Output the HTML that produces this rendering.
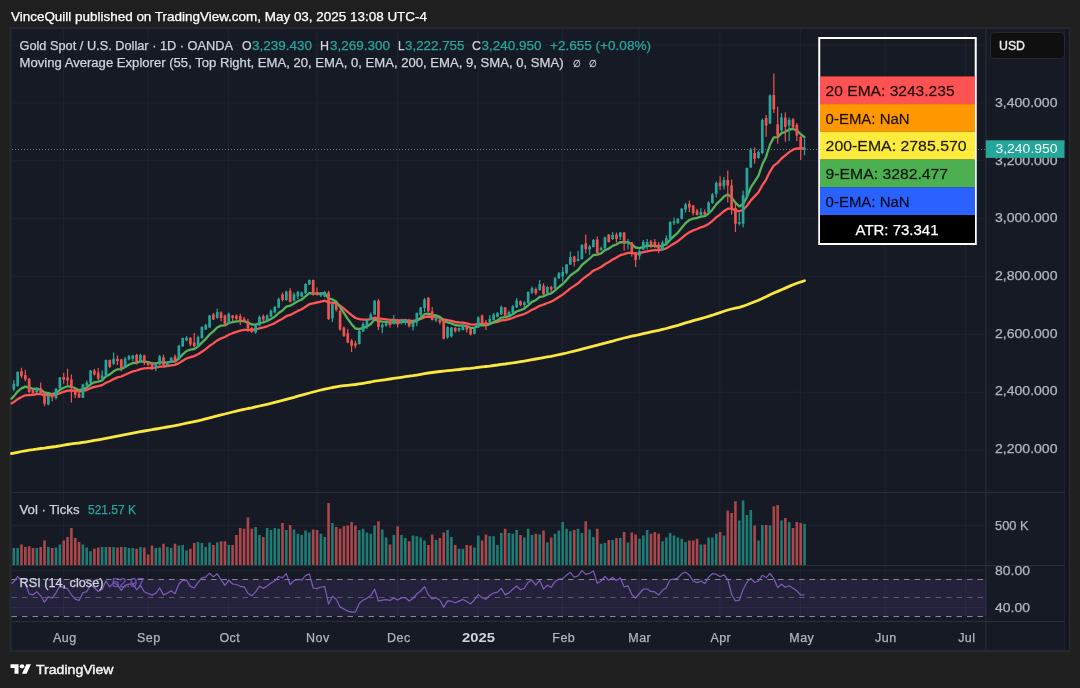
<!DOCTYPE html>
<html><head><meta charset="utf-8"><title>XAUUSD chart</title>
<style>
html,body{margin:0;padding:0;background:#1f1f1f;}
body{width:1080px;height:688px;overflow:hidden;position:relative;}
svg{position:absolute;left:0;top:0;display:block;font-family:"Liberation Sans",Arial,sans-serif;}
</style></head><body>
<svg width="1080" height="688" viewBox="0 0 1080 688">
<rect x="9.2" y="27" width="1061.2" height="625.4" fill="#25292e"/>
<rect x="11.7" y="29.2" width="1056.8" height="620.6" fill="#161a25"/>
<rect x="1065.2" y="29.2" width="3.3" height="620.6" fill="#12151d"/>
<path d="M1064.7 29.2V649.8" stroke="#20242f" stroke-width="1" fill="none"/>
<path d="M63.5 29.2V621 M147.95 29.2V621 M228.56 29.2V621 M316.84 29.2V621 M397.45 29.2V621 M478.06 29.2V621 M562.51 29.2V621 M639.28 29.2V621 M719.88 29.2V621 M800.49 29.2V621 M884.94 29.2V621 M965.55 29.2V621 M11.5 45.05H986 M11.5 102.90H986 M11.5 160.75H986 M11.5 218.60H986 M11.5 276.45H986 M11.5 334.30H986 M11.5 392.15H986 M11.5 450.00H986 M11.5 525.5H986 M11.5 570.5H986 M11.5 607.5H986" stroke="#1f2330" stroke-width="1" fill="none"/>
<path d="M11.5 492.5H1065M11.5 565.5H1065M11.5 621.5H1065M986 29.2V649.8" stroke="#2a2e36" stroke-width="1" fill="none"/>
<rect x="11.5" y="579" width="974.5" height="37" fill="#7e57c2" fill-opacity="0.14"/>
<path d="M11.5 579.5H986M11.5 616.5H986" stroke="#858892" stroke-width="1.1" stroke-dasharray="5.5 5" fill="none"/>
<path d="M11.5 597.5H986" stroke="#858892" stroke-width="1" stroke-opacity="0.55" stroke-dasharray="5.5 5" fill="none"/>
<path d="M12.50 565V548.1h2.6V565zM16.34 565V548.1h2.6V565zM35.53 565V548.1h2.6V565zM47.05 565V546.9h2.6V565zM54.72 565V547.5h2.6V565zM58.56 565V544.4h2.6V565zM81.59 565V544.4h2.6V565zM85.43 565V547.5h2.6V565zM89.27 565V551.2h2.6V565zM100.79 565V546.9h2.6V565zM104.62 565V546.9h2.6V565zM112.30 565V546.9h2.6V565zM123.82 565V546.9h2.6V565zM127.66 565V548.1h2.6V565zM131.49 565V548.1h2.6V565zM139.17 565V546.9h2.6V565zM154.52 565V548.1h2.6V565zM158.36 565V547.5h2.6V565zM166.04 565V546.9h2.6V565zM169.88 565V548.1h2.6V565zM177.56 565V545.6h2.6V565zM181.39 565V545.0h2.6V565zM185.23 565V550.6h2.6V565zM196.75 565V541.9h2.6V565zM200.59 565V543.1h2.6V565zM204.42 565V546.9h2.6V565zM208.26 565V542.5h2.6V565zM215.94 565V542.5h2.6V565zM227.46 565V545.0h2.6V565zM254.33 565V526.9h2.6V565zM258.16 565V535.0h2.6V565zM265.84 565V528.1h2.6V565zM269.68 565V530.0h2.6V565zM273.52 565V528.1h2.6V565zM277.36 565V528.8h2.6V565zM285.03 565V530.0h2.6V565zM292.71 565V529.4h2.6V565zM296.55 565V533.8h2.6V565zM300.39 565V535.0h2.6V565zM304.23 565V530.6h2.6V565zM308.06 565V532.5h2.6V565zM319.58 565V533.8h2.6V565zM323.42 565V536.9h2.6V565zM331.10 565V523.1h2.6V565zM357.96 565V530.0h2.6V565zM361.80 565V528.8h2.6V565zM365.64 565V532.5h2.6V565zM369.48 565V533.8h2.6V565zM373.32 565V525.6h2.6V565zM381.00 565V529.4h2.6V565zM384.83 565V537.5h2.6V565zM392.51 565V535.0h2.6V565zM400.19 565V535.0h2.6V565zM404.03 565V538.1h2.6V565zM411.70 565V535.6h2.6V565zM415.54 565V536.2h2.6V565zM419.38 565V537.5h2.6V565zM423.22 565V540.6h2.6V565zM434.73 565V540.0h2.6V565zM446.25 565V530.0h2.6V565zM450.09 565V536.9h2.6V565zM457.77 565V548.8h2.6V565zM461.60 565V548.8h2.6V565zM473.12 565V547.5h2.6V565zM476.96 565V535.6h2.6V565zM488.47 565V536.2h2.6V565zM492.31 565V536.2h2.6V565zM496.15 565V545.0h2.6V565zM499.99 565V533.1h2.6V565zM507.67 565V533.1h2.6V565zM511.50 565V533.8h2.6V565zM515.34 565V530.0h2.6V565zM523.02 565V537.5h2.6V565zM526.86 565V528.8h2.6V565zM530.70 565V535.0h2.6V565zM538.37 565V534.4h2.6V565zM546.05 565V542.5h2.6V565zM553.73 565V533.8h2.6V565zM557.57 565V530.6h2.6V565zM561.41 565V521.9h2.6V565zM565.24 565V528.8h2.6V565zM569.08 565V531.2h2.6V565zM576.76 565V528.8h2.6V565zM580.60 565V533.1h2.6V565zM588.27 565V529.4h2.6V565zM592.11 565V536.9h2.6V565zM599.79 565V543.8h2.6V565zM603.63 565V543.1h2.6V565zM611.31 565V540.0h2.6V565zM618.98 565V538.1h2.6V565zM626.66 565V542.5h2.6V565zM638.18 565V538.8h2.6V565zM642.01 565V535.6h2.6V565zM645.85 565V530.0h2.6V565zM661.21 565V541.2h2.6V565zM665.04 565V537.5h2.6V565zM668.88 565V533.1h2.6V565zM672.72 565V535.6h2.6V565zM676.56 565V537.5h2.6V565zM680.40 565V538.8h2.6V565zM684.24 565V541.9h2.6V565zM699.59 565V544.4h2.6V565zM707.27 565V537.5h2.6V565zM711.11 565V537.5h2.6V565zM714.95 565V533.8h2.6V565zM722.62 565V535.6h2.6V565zM737.98 565V520.6h2.6V565zM741.81 565V500.6h2.6V565zM745.65 565V515.0h2.6V565zM749.49 565V510.0h2.6V565zM757.17 565V540.6h2.6V565zM761.01 565V525.0h2.6V565zM768.68 565V525.6h2.6V565zM780.20 565V520.6h2.6V565zM787.88 565V521.9h2.6V565zM803.23 565V523.8h2.6V565z" fill="#1f7b74"/>
<path d="M20.18 565V544.4h2.6V565zM24.02 565V546.9h2.6V565zM27.85 565V546.2h2.6V565zM31.69 565V548.1h2.6V565zM39.37 565V546.9h2.6V565zM43.21 565V540.6h2.6V565zM50.89 565V548.1h2.6V565zM62.40 565V540.6h2.6V565zM66.24 565V536.9h2.6V565zM70.08 565V528.1h2.6V565zM73.92 565V538.1h2.6V565zM77.75 565V541.9h2.6V565zM93.11 565V548.8h2.6V565zM96.95 565V547.5h2.6V565zM108.46 565V546.9h2.6V565zM116.14 565V547.5h2.6V565zM119.98 565V546.9h2.6V565zM135.33 565V548.8h2.6V565zM143.01 565V547.5h2.6V565zM146.85 565V554.4h2.6V565zM150.69 565V545.6h2.6V565zM162.20 565V543.8h2.6V565zM173.72 565V543.8h2.6V565zM189.07 565V548.8h2.6V565zM192.91 565V543.1h2.6V565zM212.10 565V545.0h2.6V565zM219.78 565V541.2h2.6V565zM223.62 565V541.2h2.6V565zM231.29 565V545.0h2.6V565zM235.13 565V535.0h2.6V565zM238.97 565V528.1h2.6V565zM242.81 565V528.8h2.6V565zM246.65 565V517.5h2.6V565zM250.49 565V528.8h2.6V565zM262.00 565V536.9h2.6V565zM281.19 565V523.1h2.6V565zM288.87 565V525.0h2.6V565zM311.90 565V529.4h2.6V565zM315.74 565V530.0h2.6V565zM327.26 565V503.1h2.6V565zM334.93 565V526.9h2.6V565zM338.77 565V528.8h2.6V565zM342.61 565V526.2h2.6V565zM346.45 565V525.6h2.6V565zM350.29 565V521.9h2.6V565zM354.13 565V525.6h2.6V565zM377.16 565V521.2h2.6V565zM388.67 565V544.4h2.6V565zM396.35 565V526.2h2.6V565zM407.87 565V541.2h2.6V565zM427.06 565V545.0h2.6V565zM430.90 565V534.4h2.6V565zM438.57 565V538.1h2.6V565zM442.41 565V532.5h2.6V565zM453.93 565V545.0h2.6V565zM465.44 565V545.0h2.6V565zM469.28 565V545.6h2.6V565zM480.80 565V540.6h2.6V565zM484.64 565V534.4h2.6V565zM503.83 565V528.8h2.6V565zM519.18 565V535.0h2.6V565zM534.54 565V533.8h2.6V565zM542.21 565V530.6h2.6V565zM549.89 565V537.5h2.6V565zM572.92 565V530.0h2.6V565zM584.44 565V521.2h2.6V565zM595.95 565V528.8h2.6V565zM607.47 565V540.0h2.6V565zM615.14 565V538.1h2.6V565zM622.82 565V531.9h2.6V565zM630.50 565V532.5h2.6V565zM634.34 565V534.4h2.6V565zM649.69 565V533.8h2.6V565zM653.53 565V531.9h2.6V565zM657.37 565V533.8h2.6V565zM688.08 565V540.6h2.6V565zM691.91 565V540.6h2.6V565zM695.75 565V538.8h2.6V565zM703.43 565V544.4h2.6V565zM718.78 565V531.9h2.6V565zM726.46 565V510.6h2.6V565zM730.30 565V513.1h2.6V565zM734.14 565V501.2h2.6V565zM753.33 565V525.6h2.6V565zM764.85 565V525.0h2.6V565zM772.52 565V506.2h2.6V565zM776.36 565V505.0h2.6V565zM784.04 565V518.1h2.6V565zM791.72 565V528.1h2.6V565zM795.55 565V521.9h2.6V565zM799.39 565V523.1h2.6V565z" fill="#ab474a"/>
<path d="M12 149.5H986" stroke="#6fa39d" stroke-width="1" stroke-dasharray="1 2" stroke-opacity="0.75" fill="none"/>
<polyline points="11.5,453.5 13.8,453.1 17.6,452.3 21.5,451.5 25.3,450.8 29.2,450.2 33.0,449.7 36.8,449.1 40.7,448.5 44.5,448.1 48.3,447.5 52.2,447.0 56.0,446.5 59.9,445.8 63.7,445.1 67.5,444.5 71.4,443.9 75.2,443.4 79.1,443.0 82.9,442.4 86.7,441.8 90.6,441.1 94.4,440.4 98.2,439.8 102.1,439.2 105.9,438.4 109.8,437.7 113.6,436.9 117.4,436.1 121.3,435.4 125.1,434.7 129.0,433.9 132.8,433.1 136.6,432.4 140.5,431.7 144.3,431.0 148.1,430.3 152.0,429.7 155.8,429.0 159.7,428.3 163.5,427.7 167.3,427.0 171.2,426.3 175.0,425.7 178.9,424.9 182.7,424.0 186.5,423.2 190.4,422.4 194.2,421.6 198.0,420.8 201.9,419.9 205.7,418.9 209.6,417.9 213.4,416.9 217.2,415.9 221.1,414.9 224.9,414.0 228.8,413.0 232.6,412.0 236.4,411.1 240.3,410.2 244.1,409.3 247.9,408.5 251.8,407.8 255.6,406.9 259.5,406.0 263.3,405.2 267.1,404.3 271.0,403.4 274.8,402.4 278.7,401.4 282.5,400.4 286.3,399.3 290.2,398.3 294.0,397.3 297.8,396.2 301.7,395.2 305.5,394.1 309.4,393.0 313.2,392.0 317.0,391.0 320.9,390.0 324.7,389.1 328.6,388.4 332.4,387.5 336.2,386.8 340.1,386.2 343.9,385.7 347.7,385.3 351.6,384.9 355.4,384.5 359.3,383.9 363.1,383.3 366.9,382.7 370.8,382.0 374.6,381.2 378.5,380.7 382.3,380.1 386.1,379.6 390.0,379.0 393.8,378.4 397.6,377.9 401.5,377.3 405.3,376.7 409.2,376.2 413.0,375.7 416.8,375.1 420.7,374.4 424.5,373.7 428.4,373.0 432.2,372.5 436.0,372.0 439.9,371.5 443.7,371.1 447.6,370.7 451.4,370.3 455.2,369.9 459.1,369.5 462.9,369.0 466.7,368.6 470.6,368.3 474.4,367.9 478.3,367.4 482.1,366.9 485.9,366.5 489.8,366.1 493.6,365.5 497.5,365.0 501.3,364.4 505.1,364.0 509.0,363.4 512.8,362.9 516.6,362.3 520.5,361.7 524.3,361.1 528.2,360.4 532.0,359.7 535.8,359.0 539.7,358.3 543.5,357.6 547.4,356.9 551.2,356.3 555.0,355.5 558.9,354.7 562.7,353.8 566.5,353.0 570.4,352.0 574.2,351.1 578.1,350.2 581.9,349.1 585.7,348.1 589.6,347.1 593.4,346.1 597.3,345.1 601.1,344.2 604.9,343.1 608.8,342.1 612.6,341.1 616.4,340.0 620.3,339.0 624.1,338.0 628.0,337.1 631.8,336.2 635.6,335.5 639.5,334.6 643.3,333.7 647.2,332.8 651.0,331.9 654.8,331.1 658.7,330.3 662.5,329.4 666.3,328.5 670.2,327.4 674.0,326.4 677.9,325.3 681.7,324.1 685.5,322.9 689.4,321.8 693.2,320.7 697.1,319.6 700.9,318.6 704.7,317.5 708.6,316.4 712.4,315.2 716.2,313.9 720.1,312.6 723.9,311.3 727.8,310.0 731.6,309.0 735.4,308.2 739.3,307.3 743.1,306.2 747.0,304.8 750.8,303.3 754.6,301.8 758.5,300.3 762.3,298.5 766.1,296.8 770.0,294.8 773.8,293.0 777.7,291.4 781.5,289.7 785.3,288.1 789.2,286.4 793.0,284.8 796.9,283.3 800.7,282.0 804.5,280.7" fill="none" stroke="#fbe83f" stroke-width="2.8" stroke-linejoin="round" stroke-linecap="round"/>
<polyline points="11.5,403.4 13.8,402.1 17.6,399.2 21.5,397.0 25.3,395.3 29.2,395.0 33.0,394.8 36.8,394.2 40.7,394.1 44.5,395.1 48.3,395.1 52.2,395.3 56.0,394.7 59.9,393.1 63.7,391.8 67.5,390.7 71.4,390.5 75.2,390.9 79.1,391.5 82.9,390.8 86.7,390.0 90.6,388.2 94.4,386.9 98.2,386.1 102.1,385.1 105.9,382.7 109.8,381.2 113.6,379.1 117.4,377.4 121.3,376.5 125.1,374.8 129.0,373.0 132.8,371.4 136.6,370.5 140.5,369.1 144.3,368.4 148.1,368.1 152.0,368.0 155.8,367.7 159.7,366.6 163.5,366.5 167.3,366.0 171.2,365.3 175.0,364.9 178.9,363.1 182.7,360.7 186.5,358.5 190.4,357.2 194.2,356.1 198.0,354.3 201.9,351.7 205.7,349.1 209.6,345.9 213.4,343.4 217.2,340.4 221.1,338.3 224.9,337.0 228.8,334.8 232.6,333.2 236.4,331.8 240.3,330.7 244.1,329.8 247.9,329.7 251.8,329.9 255.6,329.5 259.5,328.3 263.3,327.4 267.1,326.3 271.0,324.8 274.8,323.1 278.7,320.8 282.5,318.8 286.3,316.2 290.2,314.9 294.0,312.9 297.8,310.9 301.7,309.2 305.5,306.8 309.4,304.2 313.2,303.3 317.0,302.5 320.9,301.6 324.7,300.7 328.6,302.4 332.4,302.6 336.2,303.3 340.1,305.8 343.9,308.6 347.7,311.9 351.6,315.1 355.4,318.0 359.3,319.2 363.1,319.7 366.9,319.7 370.8,319.2 374.6,317.5 378.5,318.4 382.3,318.9 386.1,319.4 390.0,319.9 393.8,319.9 397.6,320.4 401.5,320.3 405.3,320.2 409.2,320.8 413.0,320.9 416.8,320.2 420.7,319.0 424.5,317.1 428.4,316.5 432.2,316.9 436.0,316.9 439.9,317.5 443.7,319.5 447.6,320.2 451.4,320.9 455.2,321.9 459.1,322.5 462.9,322.7 466.7,323.3 470.6,324.4 474.4,324.7 478.3,324.0 482.1,323.9 485.9,324.1 489.8,323.6 493.6,322.7 497.5,321.8 501.3,320.4 505.1,320.0 509.0,319.2 512.8,318.0 516.6,316.3 520.5,315.2 524.3,314.0 528.2,311.9 532.0,309.7 535.8,308.1 539.7,305.8 543.5,304.6 547.4,303.0 551.2,301.7 555.0,299.5 558.9,297.0 562.7,294.6 566.5,291.7 570.4,288.4 574.2,285.9 578.1,283.3 581.9,279.7 585.7,276.7 589.6,273.9 593.4,270.6 597.3,269.0 601.1,267.0 604.9,264.2 608.8,262.1 612.6,259.5 616.4,257.6 620.3,255.2 624.1,254.1 628.0,252.8 631.8,252.9 635.6,253.6 639.5,253.3 643.3,252.2 647.2,251.3 651.0,250.7 654.8,250.2 658.7,250.2 662.5,249.5 666.3,248.4 670.2,245.9 674.0,243.5 677.9,241.2 681.7,238.1 685.5,234.9 689.4,232.3 693.2,230.4 697.1,229.0 700.9,227.3 704.7,226.1 708.6,223.9 712.4,221.0 716.2,217.4 720.1,214.5 723.9,211.2 727.8,208.7 731.6,208.7 735.4,210.2 739.3,211.3 743.1,209.7 747.0,205.8 750.8,200.4 754.6,196.4 758.5,192.2 762.3,185.3 766.1,179.6 770.0,171.6 773.8,165.7 777.7,162.8 781.5,158.5 785.3,155.4 789.2,152.1 793.0,149.7 796.9,148.4 800.7,148.5 804.5,148.5" fill="none" stroke="#ff5555" stroke-width="2.3" stroke-linejoin="round" stroke-linecap="round"/>
<polyline points="11.5,398.6 13.8,396.4 17.6,391.5 21.5,388.4 25.3,386.6 29.2,387.7 33.0,388.8 36.8,388.6 40.7,389.7 44.5,392.5 48.3,393.1 52.2,394.0 56.0,392.9 59.9,389.8 63.7,387.8 67.5,386.3 71.4,386.7 75.2,388.3 79.1,390.2 82.9,389.0 86.7,387.7 90.6,384.3 94.4,382.3 98.2,381.6 102.1,380.4 105.9,376.3 109.8,374.4 113.6,371.3 117.4,369.3 121.3,369.1 125.1,367.0 129.0,364.8 132.8,363.0 136.6,362.9 140.5,361.3 144.3,361.6 148.1,362.2 152.0,363.3 155.8,363.5 159.7,362.1 163.5,362.6 167.3,362.5 171.2,361.6 175.0,361.7 178.9,358.5 182.7,354.4 186.5,351.0 190.4,349.7 194.2,349.0 198.0,346.6 201.9,342.6 205.7,339.1 209.6,334.4 213.4,331.4 217.2,327.5 221.1,325.6 224.9,325.4 228.8,323.0 232.6,322.1 236.4,321.4 240.3,321.2 244.1,321.2 247.9,322.6 251.8,324.5 255.6,324.7 259.5,323.1 263.3,322.4 267.1,321.0 271.0,319.0 274.8,316.6 278.7,313.0 282.5,310.5 286.3,306.6 290.2,305.7 294.0,303.5 297.8,301.2 301.7,299.5 305.5,296.3 309.4,293.1 313.2,293.4 317.0,293.7 320.9,293.5 324.7,293.2 328.6,298.3 332.4,299.4 336.2,301.6 340.1,307.2 343.9,312.9 347.7,318.8 351.6,324.2 355.4,328.5 359.3,329.0 363.1,327.9 366.9,326.4 370.8,324.0 374.6,319.4 378.5,320.9 382.3,321.6 386.1,321.9 390.0,322.6 393.8,322.1 397.6,322.6 401.5,322.1 405.3,321.5 409.2,322.5 413.0,322.3 416.8,320.5 420.7,317.9 424.5,314.2 428.4,313.6 432.2,314.9 436.0,315.4 439.9,316.8 443.7,321.2 447.6,322.3 451.4,323.4 455.2,325.0 459.1,325.6 462.9,325.5 466.7,326.2 470.6,327.9 474.4,327.8 478.3,325.7 482.1,325.2 485.9,325.4 489.8,324.1 493.6,322.1 497.5,320.3 501.3,317.6 505.1,317.2 509.0,316.2 512.8,314.2 516.6,311.5 520.5,310.2 524.3,308.6 528.2,305.3 532.0,301.9 535.8,300.2 539.7,296.9 543.5,296.3 547.4,294.4 551.2,293.4 555.0,290.4 558.9,287.0 562.7,284.0 566.5,280.1 570.4,275.5 574.2,272.8 578.1,270.0 581.9,265.0 585.7,261.8 589.6,258.7 593.4,255.0 597.3,254.6 601.1,253.4 604.9,250.2 608.8,248.6 612.6,245.9 616.4,244.5 620.3,242.1 624.1,242.3 628.0,242.1 631.8,244.4 635.6,247.5 639.5,248.2 643.3,246.9 647.2,245.9 651.0,245.8 654.8,245.8 658.7,246.6 662.5,245.8 666.3,244.3 670.2,239.8 674.0,236.1 677.9,232.6 681.7,227.8 685.5,223.2 689.4,220.0 693.2,218.6 697.1,217.9 700.9,216.7 704.7,216.2 708.6,213.5 712.4,209.7 716.2,204.4 720.1,200.7 723.9,196.6 727.8,194.4 731.6,197.3 735.4,202.6 739.3,206.4 743.1,204.1 747.0,196.9 750.8,187.4 754.6,181.7 758.5,175.7 762.3,164.6 766.1,156.7 770.0,144.5 773.8,137.4 777.7,137.1 781.5,133.1 785.3,131.8 789.2,129.5 793.0,129.0 796.9,130.3 800.7,134.2 804.5,137.1" fill="none" stroke="#55b35a" stroke-width="2.3" stroke-linejoin="round" stroke-linecap="round"/>
<path d="M13.80 380.0V391.2M17.64 371.2V386.5M36.83 387.5V393.1M48.35 395.0V405.2M56.02 388.1V399.4M59.86 376.9V388.8M82.89 383.8V398.1M86.73 380.6V386.9M90.57 370.0V384.4M102.09 370.6V380.6M105.92 359.4V376.2M113.60 352.5V365.0M125.12 356.9V368.1M128.96 355.0V360.6M132.79 355.0V361.2M140.47 353.8V362.5M155.82 363.8V371.2M159.66 355.0V365.0M167.34 361.2V366.9M171.18 356.9V363.1M178.86 345.0V360.0M182.69 337.5V346.9M186.53 336.2V341.2M198.05 335.6V346.9M201.89 326.2V338.8M205.72 323.8V330.0M209.56 315.0V328.1M217.24 308.8V318.8M228.76 312.5V324.4M255.63 324.4V333.8M259.46 315.6V326.2M267.14 314.4V320.6M270.98 309.5V317.0M274.82 305.8V313.2M278.66 297.6V308.2M286.33 290.8V300.8M294.01 292.6V301.4M297.85 290.8V298.9M301.69 291.4V297.0M305.53 283.2V293.9M309.36 279.5V285.1M320.88 292.0V297.0M324.72 290.8V297.6M332.40 303.2V322.0M359.26 330.1V344.5M363.10 322.0V332.0M366.94 319.5V328.9M370.78 312.6V320.1M374.62 300.1V315.1M382.30 323.2V333.2M386.13 321.4V326.4M393.81 315.1V324.5M401.49 318.8V324.4M405.33 318.8V325.0M413.00 320.6V330.6M416.84 312.5V326.2M420.68 306.9V316.2M424.52 298.1V311.9M436.03 316.2V321.9M447.55 326.2V338.8M451.39 326.9V337.5M459.07 327.5V331.9M462.90 323.8V330.6M474.42 326.9V334.4M478.26 316.2V328.1M489.77 315.0V323.1M493.61 313.1V320.6M497.45 311.9V317.5M501.29 305.6V315.0M508.97 310.6V316.2M512.80 305.0V313.1M516.64 298.1V308.1M524.32 301.2V308.1M528.16 291.2V303.8M532.00 286.4V293.9M539.67 280.1V290.8M547.35 285.8V295.1M555.03 277.0V288.9M558.87 272.0V278.9M562.71 267.0V281.4M566.54 263.9V274.5M570.38 251.4V265.1M578.06 250.8V261.4M581.90 243.9V259.5M589.57 245.1V255.1M593.41 238.9V247.6M601.09 246.4V250.8M604.93 236.4V248.9M612.61 232.0V240.1M620.28 232.0V240.1M627.96 238.9V249.5M639.48 249.5V259.5M643.31 240.1V250.1M647.15 238.9V249.5M662.51 240.6V251.0M666.34 235.6V244.4M670.18 221.2V240.0M674.02 217.5V225.0M677.86 218.1V223.8M681.70 208.1V219.4M685.54 203.1V212.5M700.89 208.1V216.2M708.57 201.2V213.1M712.41 193.1V203.8M716.25 181.2V197.5M723.92 176.9V189.4M739.28 212.5V225.6M743.11 190.6V227.5M746.95 167.5V197.5M750.79 148.1V168.1M758.47 150.6V158.8M762.31 118.6V154.2M769.98 94.2V124.2M781.50 113.0V131.8M789.18 117.4V141.1M804.53 138.5V155.2" stroke="#26a69a" stroke-width="1.2" fill="none"/>
<path d="M21.48 367.8V378.1M25.32 369.8V381.2M29.15 378.1V393.1M32.99 388.8V394.4M40.67 382.5V395.0M44.51 392.5V406.2M52.19 393.1V401.2M63.70 373.1V383.8M67.54 368.8V385.6M71.38 374.4V402.5M75.22 388.8V398.1M79.05 390.0V398.1M94.41 368.8V375.6M98.25 368.1V380.0M109.76 359.4V368.1M117.44 355.6V365.0M121.28 358.8V371.2M136.63 353.8V364.4M144.31 354.4V365.0M148.15 361.9V366.2M151.99 361.9V370.0M163.50 354.4V366.2M175.02 354.4V362.5M190.37 336.9V346.2M194.21 333.1V346.9M213.40 313.1V320.0M221.08 311.2V321.2M224.92 314.4V325.6M232.59 315.0V321.2M236.43 314.4V320.0M240.27 313.8V325.0M244.11 316.9V321.9M247.95 318.8V331.9M251.79 326.9V333.1M263.30 314.4V321.2M282.50 292.6V301.4M290.17 288.2V302.6M313.20 279.5V295.8M317.04 287.6V295.8M328.56 290.8V320.1M336.23 302.0V311.4M340.07 309.5V330.8M343.91 326.4V337.0M347.75 328.9V343.2M351.59 338.9V352.0M355.43 340.8V348.2M378.46 298.9V330.1M389.97 320.8V327.6M397.65 318.9V327.6M409.17 318.8V327.5M428.36 296.9V311.9M432.20 306.9V320.6M439.87 318.1V324.4M443.71 320.0V339.4M455.23 326.9V332.5M466.74 324.4V332.5M470.58 327.5V335.6M482.10 314.4V323.8M485.94 320.0V330.0M505.13 306.9V316.2M520.48 300.6V306.2M535.84 287.6V295.1M543.51 283.2V295.1M551.19 285.8V292.0M574.22 255.8V266.4M585.74 234.5V253.2M597.25 236.4V255.1M608.77 233.9V242.6M616.44 232.6V242.6M624.12 232.0V250.8M631.80 242.0V256.4M635.64 252.0V267.0M650.99 240.1V248.2M654.83 238.9V248.2M658.67 242.0V253.2M689.38 200.6V211.9M693.21 205.0V215.6M697.05 208.8V215.6M704.73 209.4V215.0M720.08 176.2V190.0M727.76 170.6V202.5M731.60 179.4V214.4M735.44 203.8V231.9M754.63 147.5V163.8M766.15 114.9V136.8M773.82 73.6V113.0M777.66 106.8V143.6M785.34 112.4V141.8M793.02 118.0V129.2M796.85 123.0V141.1M800.69 135.5V159.9" stroke="#ef5350" stroke-width="1.2" fill="none"/>
<path d="M12.45 383.8h2.7V389.4h-2.7zM16.29 371.9h2.7V386.2h-2.7zM35.48 388.1h2.7V392.5h-2.7zM47.00 395.6h2.7V404.4h-2.7zM54.67 388.8h2.7V398.1h-2.7zM58.51 377.5h2.7V388.1h-2.7zM81.54 384.4h2.7V397.8h-2.7zM85.38 382.5h2.7V385.6h-2.7zM89.22 370.6h2.7V383.1h-2.7zM100.74 375.6h2.7V378.8h-2.7zM104.57 360.0h2.7V375.6h-2.7zM112.25 358.8h2.7V363.8h-2.7zM123.77 358.8h2.7V367.5h-2.7zM127.61 356.2h2.7V359.4h-2.7zM131.44 355.6h2.7V358.8h-2.7zM139.12 355.0h2.7V361.2h-2.7zM154.47 364.4h2.7V368.1h-2.7zM158.31 356.2h2.7V364.4h-2.7zM165.99 361.9h2.7V365.0h-2.7zM169.83 358.1h2.7V362.5h-2.7zM177.51 345.6h2.7V359.4h-2.7zM181.34 338.1h2.7V346.2h-2.7zM185.18 337.5h2.7V340.6h-2.7zM196.70 336.9h2.7V346.2h-2.7zM200.54 326.9h2.7V338.1h-2.7zM204.38 325.0h2.7V329.4h-2.7zM208.21 315.6h2.7V327.5h-2.7zM215.89 311.9h2.7V318.1h-2.7zM227.41 313.8h2.7V323.8h-2.7zM254.28 325.6h2.7V332.5h-2.7zM258.11 316.9h2.7V325.6h-2.7zM265.79 315.6h2.7V320.0h-2.7zM269.63 310.8h2.7V316.4h-2.7zM273.47 307.0h2.7V312.6h-2.7zM277.31 298.9h2.7V307.6h-2.7zM284.98 291.4h2.7V300.1h-2.7zM292.66 294.5h2.7V300.8h-2.7zM296.50 292.0h2.7V296.4h-2.7zM300.34 292.6h2.7V296.4h-2.7zM304.18 283.9h2.7V293.2h-2.7zM308.01 280.1h2.7V284.5h-2.7zM319.53 292.6h2.7V295.8h-2.7zM323.37 292.0h2.7V296.4h-2.7zM331.05 303.9h2.7V318.2h-2.7zM357.91 330.8h2.7V343.9h-2.7zM361.75 323.9h2.7V331.4h-2.7zM365.59 320.1h2.7V325.8h-2.7zM369.43 314.5h2.7V319.5h-2.7zM373.27 300.8h2.7V314.5h-2.7zM380.95 324.5h2.7V327.6h-2.7zM384.78 323.2h2.7V325.8h-2.7zM392.46 320.1h2.7V323.9h-2.7zM400.14 320.0h2.7V323.1h-2.7zM403.98 319.4h2.7V322.5h-2.7zM411.65 321.9h2.7V326.9h-2.7zM415.49 313.1h2.7V322.5h-2.7zM419.33 307.5h2.7V315.0h-2.7zM423.17 299.4h2.7V308.1h-2.7zM434.68 317.5h2.7V320.6h-2.7zM446.20 326.9h2.7V337.5h-2.7zM450.04 327.5h2.7V336.2h-2.7zM457.72 328.1h2.7V330.6h-2.7zM461.55 325.0h2.7V330.0h-2.7zM473.07 327.5h2.7V333.8h-2.7zM476.91 317.5h2.7V327.5h-2.7zM488.42 318.8h2.7V322.5h-2.7zM492.26 314.4h2.7V320.0h-2.7zM496.10 313.1h2.7V316.9h-2.7zM499.94 306.9h2.7V314.4h-2.7zM507.62 311.9h2.7V315.6h-2.7zM511.45 306.2h2.7V312.5h-2.7zM515.29 300.6h2.7V307.5h-2.7zM522.97 302.5h2.7V305.0h-2.7zM526.81 291.9h2.7V303.1h-2.7zM530.65 288.2h2.7V292.6h-2.7zM538.32 283.9h2.7V290.1h-2.7zM546.00 287.0h2.7V293.2h-2.7zM553.68 278.2h2.7V288.2h-2.7zM557.52 273.2h2.7V278.2h-2.7zM561.36 272.0h2.7V276.4h-2.7zM565.19 264.5h2.7V273.2h-2.7zM569.03 257.0h2.7V264.5h-2.7zM576.71 258.9h2.7V260.8h-2.7zM580.55 245.1h2.7V258.9h-2.7zM588.22 246.4h2.7V249.5h-2.7zM592.06 240.1h2.7V247.0h-2.7zM599.74 248.2h2.7V250.1h-2.7zM603.58 237.6h2.7V248.2h-2.7zM611.26 235.1h2.7V238.9h-2.7zM618.93 232.6h2.7V237.0h-2.7zM626.61 241.4h2.7V243.2h-2.7zM638.13 250.8h2.7V255.8h-2.7zM641.96 242.0h2.7V249.5h-2.7zM645.80 242.0h2.7V245.1h-2.7zM661.16 242.5h2.7V250.0h-2.7zM664.99 238.1h2.7V243.1h-2.7zM668.83 221.9h2.7V238.8h-2.7zM672.67 221.2h2.7V223.1h-2.7zM676.51 218.8h2.7V223.1h-2.7zM680.35 208.8h2.7V218.8h-2.7zM684.19 204.4h2.7V209.4h-2.7zM699.54 211.9h2.7V215.0h-2.7zM707.22 202.5h2.7V212.5h-2.7zM711.06 194.4h2.7V203.1h-2.7zM714.90 183.1h2.7V193.8h-2.7zM722.57 180.0h2.7V186.2h-2.7zM737.93 221.9h2.7V223.8h-2.7zM741.76 195.0h2.7V223.8h-2.7zM745.60 168.1h2.7V196.2h-2.7zM749.44 149.4h2.7V167.5h-2.7zM757.12 151.9h2.7V158.1h-2.7zM760.96 119.9h2.7V153.0h-2.7zM768.63 95.5h2.7V123.6h-2.7zM780.15 117.4h2.7V130.5h-2.7zM787.83 119.9h2.7V125.5h-2.7zM803.18 148.8h2.7V149.8h-2.7z" fill="#26a69a"/>
<path d="M20.13 371.2h2.7V376.2h-2.7zM23.97 375.0h2.7V379.4h-2.7zM27.80 378.8h2.7V391.9h-2.7zM31.64 390.0h2.7V393.1h-2.7zM39.32 388.1h2.7V393.8h-2.7zM43.16 393.1h2.7V403.8h-2.7zM50.84 393.8h2.7V397.5h-2.7zM62.35 376.9h2.7V379.4h-2.7zM66.19 377.5h2.7V380.6h-2.7zM70.03 379.4h2.7V388.1h-2.7zM73.87 389.4h2.7V395.0h-2.7zM77.70 393.8h2.7V397.5h-2.7zM93.06 370.6h2.7V374.4h-2.7zM96.90 372.5h2.7V378.8h-2.7zM108.41 360.0h2.7V366.9h-2.7zM116.09 358.8h2.7V361.2h-2.7zM119.93 359.4h2.7V368.1h-2.7zM135.28 355.0h2.7V362.5h-2.7zM142.96 355.6h2.7V362.5h-2.7zM146.80 362.5h2.7V365.0h-2.7zM150.64 363.1h2.7V367.5h-2.7zM162.15 357.5h2.7V365.0h-2.7zM173.67 356.2h2.7V361.9h-2.7zM189.02 338.1h2.7V344.4h-2.7zM192.86 342.5h2.7V346.2h-2.7zM212.05 314.4h2.7V319.4h-2.7zM219.73 312.5h2.7V318.1h-2.7zM223.57 315.6h2.7V324.4h-2.7zM231.24 315.6h2.7V318.1h-2.7zM235.08 315.6h2.7V318.8h-2.7zM238.92 316.2h2.7V320.6h-2.7zM242.76 318.8h2.7V321.2h-2.7zM246.60 321.2h2.7V328.1h-2.7zM250.44 328.1h2.7V331.9h-2.7zM261.95 316.2h2.7V319.4h-2.7zM281.14 294.5h2.7V300.1h-2.7zM288.82 290.8h2.7V302.0h-2.7zM311.85 280.1h2.7V294.5h-2.7zM315.69 292.0h2.7V295.1h-2.7zM327.21 292.6h2.7V318.9h-2.7zM334.88 303.9h2.7V310.1h-2.7zM338.72 310.8h2.7V329.5h-2.7zM342.56 327.6h2.7V335.8h-2.7zM346.40 333.2h2.7V342.6h-2.7zM350.24 340.8h2.7V345.8h-2.7zM354.08 343.2h2.7V345.8h-2.7zM377.11 300.8h2.7V327.0h-2.7zM388.62 322.0h2.7V325.1h-2.7zM396.30 320.1h2.7V324.5h-2.7zM407.82 319.4h2.7V326.2h-2.7zM427.01 298.1h2.7V311.2h-2.7zM430.85 311.2h2.7V320.0h-2.7zM438.52 319.4h2.7V322.5h-2.7zM442.36 320.6h2.7V338.8h-2.7zM453.88 328.1h2.7V331.2h-2.7zM465.39 325.0h2.7V329.4h-2.7zM469.23 328.8h2.7V334.4h-2.7zM480.75 315.6h2.7V323.1h-2.7zM484.59 321.9h2.7V326.2h-2.7zM503.78 307.5h2.7V315.6h-2.7zM519.13 301.2h2.7V305.0h-2.7zM534.49 288.9h2.7V293.2h-2.7zM542.16 285.8h2.7V293.9h-2.7zM549.84 287.0h2.7V289.5h-2.7zM572.87 256.4h2.7V262.0h-2.7zM584.39 243.2h2.7V248.9h-2.7zM595.90 239.5h2.7V253.2h-2.7zM607.42 234.5h2.7V242.0h-2.7zM615.09 234.5h2.7V238.9h-2.7zM622.77 232.6h2.7V243.2h-2.7zM630.45 242.6h2.7V253.2h-2.7zM634.29 252.6h2.7V260.1h-2.7zM649.64 241.4h2.7V245.1h-2.7zM653.48 242.0h2.7V245.8h-2.7zM657.32 244.5h2.7V250.1h-2.7zM688.03 203.8h2.7V207.5h-2.7zM691.86 205.6h2.7V213.1h-2.7zM695.70 210.6h2.7V215.0h-2.7zM703.38 211.9h2.7V214.4h-2.7zM718.73 182.5h2.7V186.2h-2.7zM726.41 180.0h2.7V185.6h-2.7zM730.25 185.6h2.7V208.8h-2.7zM734.09 208.1h2.7V223.8h-2.7zM753.28 153.1h2.7V158.8h-2.7zM764.80 118.0h2.7V125.5h-2.7zM772.47 94.9h2.7V109.2h-2.7zM776.31 124.2h2.7V135.5h-2.7zM783.99 117.4h2.7V126.8h-2.7zM791.67 119.2h2.7V127.4h-2.7zM795.50 124.9h2.7V135.5h-2.7zM799.34 136.8h2.7V149.5h-2.7z" fill="#ef5350"/>
<polyline points="11.5,583.8 13.8,581.8 17.6,576.5 21.5,580.9 25.3,583.8 29.2,593.9 33.0,594.8 36.8,591.7 40.7,595.8 44.5,602.1 48.3,596.9 52.2,598.1 56.0,592.8 59.9,585.9 63.7,587.6 67.5,588.7 71.4,594.8 75.2,599.1 79.1,600.5 82.9,592.8 86.7,591.6 90.6,584.6 94.4,587.8 98.2,591.5 102.1,589.5 105.9,581.0 109.8,586.8 113.6,582.7 117.4,584.8 121.3,590.4 125.1,585.4 129.0,584.1 132.8,583.8 136.6,589.8 140.5,585.5 144.3,591.7 148.1,593.5 152.0,595.1 155.8,593.3 159.7,588.0 163.5,594.9 167.3,593.2 171.2,590.7 175.0,593.7 178.9,584.0 182.7,580.4 186.5,580.1 190.4,586.4 194.2,588.0 198.0,582.7 201.9,577.9 205.7,577.1 209.6,573.2 213.4,576.9 217.2,573.8 221.1,579.8 224.9,585.4 228.8,580.2 232.6,584.0 236.4,584.5 240.3,586.3 244.1,586.8 247.9,593.2 251.8,595.8 255.6,591.8 259.5,586.1 263.3,588.5 267.1,586.0 271.0,583.0 274.8,580.8 278.7,576.5 282.5,577.9 286.3,573.6 290.2,584.7 294.0,580.7 297.8,579.4 301.7,580.0 305.5,575.6 309.4,573.9 313.2,588.0 317.0,588.6 320.9,587.0 324.7,586.6 328.6,604.1 332.4,596.3 336.2,599.2 340.1,606.9 343.9,609.0 347.7,611.2 351.6,612.1 355.4,612.1 359.3,603.5 363.1,600.1 366.9,598.3 370.8,595.6 374.6,589.2 378.5,601.2 382.3,600.2 386.1,599.6 390.0,600.4 393.8,598.0 397.6,600.0 401.5,597.8 405.3,597.5 409.2,601.0 413.0,598.5 416.8,594.0 420.7,591.0 424.5,586.6 428.4,594.7 432.2,599.0 436.0,597.7 439.9,600.2 443.7,607.1 447.6,600.9 451.4,601.2 455.2,602.8 459.1,601.1 462.9,599.4 466.7,601.6 470.6,604.0 474.4,599.9 478.3,594.6 482.1,597.6 485.9,599.3 489.8,595.2 493.6,593.0 497.5,592.2 501.3,588.3 505.1,594.9 509.0,592.9 512.8,589.3 516.6,586.0 520.5,589.8 524.3,588.3 528.2,582.2 532.0,580.3 535.8,585.1 539.7,580.2 543.5,588.9 547.4,585.2 551.2,587.3 555.0,581.5 558.9,579.2 562.7,578.6 566.5,575.3 570.4,572.3 574.2,577.3 578.1,575.9 581.9,570.6 585.7,574.3 589.6,573.3 593.4,570.9 597.3,583.2 601.1,580.9 604.9,576.4 608.8,580.2 612.6,577.3 616.4,580.6 620.3,577.8 624.1,586.8 628.0,585.8 631.8,594.4 635.6,598.0 639.5,593.5 643.3,589.0 647.2,589.0 651.0,591.4 654.8,591.9 658.7,594.9 662.5,590.3 666.3,587.7 670.2,579.5 674.0,579.2 677.9,578.0 681.7,573.8 685.5,572.1 689.4,575.3 693.2,580.9 697.1,582.7 700.9,581.0 704.7,583.6 708.6,577.2 712.4,573.6 716.2,574.2 720.1,576.7 723.9,574.9 727.8,579.5 731.6,594.2 735.4,601.0 739.3,600.1 743.1,589.5 747.0,582.2 750.8,578.4 754.6,582.5 758.5,581.0 762.3,575.3 766.1,577.8 770.0,573.4 773.8,578.7 777.7,587.6 781.5,584.3 785.3,587.2 789.2,585.8 793.0,588.3 796.9,590.8 800.7,595.0 804.5,594.8" fill="none" stroke="#8763cb" stroke-width="1.2" stroke-opacity="0.9" stroke-linejoin="round"/>
<rect x="990.5" y="32.5" width="74" height="26" rx="4" fill="#0f0f0f" stroke="#252833" stroke-width="1"/>
<rect x="819.25" y="38" width="156.5" height="206" fill="none" stroke="#fff" stroke-width="2"/>
<rect x="820" y="76.4" width="155" height="27.69999999999999" fill="#ff5252"/>
<rect x="820" y="104.1" width="155" height="27.700000000000017" fill="#ff9800"/>
<rect x="820" y="131.8" width="155" height="27.799999999999983" fill="#ffeb3b"/>
<rect x="820" y="159.6" width="155" height="27.80000000000001" fill="#4caf50"/>
<rect x="820" y="187.4" width="155" height="27.599999999999994" fill="#2962ff"/>
<rect x="820" y="215" width="155" height="28" fill="#000"/>
<g transform="translate(10.5,662.2) scale(0.575,0.52)" fill="#fff"><path d="M14 22H7V11H0V4h14v18zM28 22h-8l7.5-18h8L28 22z"/><circle cx="20" cy="8" r="4"/></g>
<text x="11" y="21" font-size="12.4" fill="#fff" textLength="416" lengthAdjust="spacingAndGlyphs" stroke="#fff" stroke-width="0.25">VinceQuill published on TradingView.com, May 03, 2025 13:08 UTC-4</text>
<text x="19.5" y="49.5" font-size="12.5" fill="#d1d4dc" textLength="213.5" lengthAdjust="spacingAndGlyphs" stroke="#d1d4dc" stroke-width="0.25">Gold Spot / U.S. Dollar · 1D · OANDA</text>
<text x="242" y="49.5" font-size="12.5" fill="#d1d4dc" textLength="9.5" lengthAdjust="spacingAndGlyphs" stroke="#d1d4dc" stroke-width="0.25">O</text>
<text x="252" y="49.5" font-size="12.5" fill="#26a69a" textLength="60" lengthAdjust="spacingAndGlyphs" stroke="#26a69a" stroke-width="0.25">3,239.430</text>
<text x="320" y="49.5" font-size="12.5" fill="#d1d4dc" textLength="9" lengthAdjust="spacingAndGlyphs" stroke="#d1d4dc" stroke-width="0.25">H</text>
<text x="330" y="49.5" font-size="12.5" fill="#26a69a" textLength="60" lengthAdjust="spacingAndGlyphs" stroke="#26a69a" stroke-width="0.25">3,269.300</text>
<text x="398" y="49.5" font-size="12.5" fill="#d1d4dc" textLength="6.5" lengthAdjust="spacingAndGlyphs" stroke="#d1d4dc" stroke-width="0.25">L</text>
<text x="405" y="49.5" font-size="12.5" fill="#26a69a" textLength="59.5" lengthAdjust="spacingAndGlyphs" stroke="#26a69a" stroke-width="0.25">3,222.755</text>
<text x="472" y="49.5" font-size="12.5" fill="#d1d4dc" textLength="9" lengthAdjust="spacingAndGlyphs" stroke="#d1d4dc" stroke-width="0.25">C</text>
<text x="481.5" y="49.5" font-size="12.5" fill="#26a69a" textLength="60" lengthAdjust="spacingAndGlyphs" stroke="#26a69a" stroke-width="0.25">3,240.950</text>
<text x="550" y="49.5" font-size="12.5" fill="#26a69a" textLength="101" lengthAdjust="spacingAndGlyphs" stroke="#26a69a" stroke-width="0.25">+2.655 (+0.08%)</text>
<text x="19.5" y="67" font-size="12.5" fill="#d1d4dc" textLength="544" lengthAdjust="spacingAndGlyphs" stroke="#d1d4dc" stroke-width="0.25">Moving Average Explorer (55, Top Right, EMA, 20, EMA, 0, EMA, 200, EMA, 9, SMA, 0, SMA)</text>
<text x="572.7" y="66.6" font-size="9.5" fill="#d1d4dc" textLength="8" lengthAdjust="spacingAndGlyphs" stroke="#d1d4dc" stroke-width="0.25">∅</text>
<text x="589.3" y="66.6" font-size="9.5" fill="#d1d4dc" textLength="8" lengthAdjust="spacingAndGlyphs" stroke="#d1d4dc" stroke-width="0.25">∅</text>
<text x="19.5" y="513.5" font-size="12.5" fill="#d1d4dc" textLength="60" lengthAdjust="spacingAndGlyphs" stroke="#d1d4dc" stroke-width="0.25">Vol · Ticks</text>
<text x="88" y="513.5" font-size="12.5" fill="#26a69a" textLength="48" lengthAdjust="spacingAndGlyphs" stroke="#26a69a" stroke-width="0.25">521.57 K</text>
<text x="19.5" y="587" font-size="12.5" fill="#d1d4dc" textLength="84" lengthAdjust="spacingAndGlyphs" stroke="#d1d4dc" stroke-width="0.25">RSI (14, close)</text>
<text x="112" y="587" font-size="12.5" fill="#7e57c2" textLength="32.5" lengthAdjust="spacingAndGlyphs" fill-opacity="0.8" stroke="#7e57c2" stroke-width="0.25">52.97</text>
<text x="995" y="106.8" font-size="12.5" fill="#b2b5be" textLength="62.5" lengthAdjust="spacingAndGlyphs" stroke="#b2b5be" stroke-width="0.25">3,400.000</text>
<text x="995" y="164.6" font-size="12.5" fill="#b2b5be" textLength="62.5" lengthAdjust="spacingAndGlyphs" stroke="#b2b5be" stroke-width="0.25">3,200.000</text>
<text x="995" y="222.3" font-size="12.5" fill="#b2b5be" textLength="62.5" lengthAdjust="spacingAndGlyphs" stroke="#b2b5be" stroke-width="0.25">3,000.000</text>
<text x="995" y="280.0" font-size="12.5" fill="#b2b5be" textLength="62.5" lengthAdjust="spacingAndGlyphs" stroke="#b2b5be" stroke-width="0.25">2,800.000</text>
<text x="995" y="337.7" font-size="12.5" fill="#b2b5be" textLength="62.5" lengthAdjust="spacingAndGlyphs" stroke="#b2b5be" stroke-width="0.25">2,600.000</text>
<text x="995" y="395.4" font-size="12.5" fill="#b2b5be" textLength="62.5" lengthAdjust="spacingAndGlyphs" stroke="#b2b5be" stroke-width="0.25">2,400.000</text>
<text x="995" y="453.1" font-size="12.5" fill="#b2b5be" textLength="62.5" lengthAdjust="spacingAndGlyphs" stroke="#b2b5be" stroke-width="0.25">2,200.000</text>
<rect x="985.7" y="140.3" width="78.8" height="17.6" fill="#26a69a"/>
<text x="995.5" y="153.2" font-size="12.5" fill="#f2fffd" textLength="62" lengthAdjust="spacingAndGlyphs" stroke="none">3,240.950</text>
<text x="995" y="529.5" font-size="12.5" fill="#b2b5be" textLength="33.5" lengthAdjust="spacingAndGlyphs" stroke="#b2b5be" stroke-width="0.25">500 K</text>
<text x="995" y="574.5" font-size="12.5" fill="#b2b5be" textLength="35" lengthAdjust="spacingAndGlyphs" stroke="#b2b5be" stroke-width="0.25">80.00</text>
<text x="995" y="611.5" font-size="12.5" fill="#b2b5be" textLength="35" lengthAdjust="spacingAndGlyphs" stroke="#b2b5be" stroke-width="0.25">40.00</text>
<text x="999" y="49.9" font-size="12.5" fill="#ebebeb" textLength="26" lengthAdjust="spacingAndGlyphs" stroke="#ebebeb" stroke-width="0.4">USD</text>
<text x="64.8" y="641.5" font-size="12.5" fill="#b2b5be" text-anchor="middle" letter-spacing="0.45" stroke="#b2b5be" stroke-width="0.25">Aug</text>
<text x="148.8" y="641.5" font-size="12.5" fill="#b2b5be" text-anchor="middle" letter-spacing="0.45" stroke="#b2b5be" stroke-width="0.25">Sep</text>
<text x="229.8" y="641.5" font-size="12.5" fill="#b2b5be" text-anchor="middle" letter-spacing="0.45" stroke="#b2b5be" stroke-width="0.25">Oct</text>
<text x="317.8" y="641.5" font-size="12.5" fill="#b2b5be" text-anchor="middle" letter-spacing="0.45" stroke="#b2b5be" stroke-width="0.25">Nov</text>
<text x="398.8" y="641.5" font-size="12.5" fill="#b2b5be" text-anchor="middle" letter-spacing="0.45" stroke="#b2b5be" stroke-width="0.25">Dec</text>
<text x="478.5" y="641.5" font-size="12.5" fill="#d1d4dc" textLength="33" lengthAdjust="spacingAndGlyphs" font-weight="bold" text-anchor="middle">2025</text>
<text x="563.8" y="641.5" font-size="12.5" fill="#b2b5be" text-anchor="middle" letter-spacing="0.45" stroke="#b2b5be" stroke-width="0.25">Feb</text>
<text x="639.8" y="641.5" font-size="12.5" fill="#b2b5be" text-anchor="middle" letter-spacing="0.45" stroke="#b2b5be" stroke-width="0.25">Mar</text>
<text x="720.8" y="641.5" font-size="12.5" fill="#b2b5be" text-anchor="middle" letter-spacing="0.45" stroke="#b2b5be" stroke-width="0.25">Apr</text>
<text x="801.8" y="641.5" font-size="12.5" fill="#b2b5be" text-anchor="middle" letter-spacing="0.45" stroke="#b2b5be" stroke-width="0.25">May</text>
<text x="885.8" y="641.5" font-size="12.5" fill="#b2b5be" text-anchor="middle" letter-spacing="0.45" stroke="#b2b5be" stroke-width="0.25">Jun</text>
<text x="966.8" y="641.5" font-size="12.5" fill="#b2b5be" text-anchor="middle" letter-spacing="0.45" stroke="#b2b5be" stroke-width="0.25">Jul</text>
<text x="36" y="673.8" font-size="12.8" fill="#f2f2f2" textLength="77.5" lengthAdjust="spacingAndGlyphs" stroke="#f2f2f2" stroke-width="0.45">TradingView</text>
<text x="825.6" y="95.8" font-size="15.5" fill="#000" textLength="129" lengthAdjust="spacingAndGlyphs" fill-opacity="0.88" stroke="#000" stroke-opacity="0.5" stroke-width="0.35">20 EMA: 3243.235</text>
<text x="825.6" y="123.6" font-size="15.5" fill="#000" textLength="84" lengthAdjust="spacingAndGlyphs" fill-opacity="0.88" stroke="#000" stroke-opacity="0.5" stroke-width="0.35">0-EMA: NaN</text>
<text x="825.6" y="151.3" font-size="15.5" fill="#000" textLength="141" lengthAdjust="spacingAndGlyphs" fill-opacity="0.88" stroke="#000" stroke-opacity="0.5" stroke-width="0.35">200-EMA: 2785.570</text>
<text x="825.6" y="179.1" font-size="15.5" fill="#000" textLength="122.5" lengthAdjust="spacingAndGlyphs" fill-opacity="0.88" stroke="#000" stroke-opacity="0.5" stroke-width="0.35">9-EMA: 3282.477</text>
<text x="825.6" y="206.8" font-size="15.5" fill="#000" textLength="84" lengthAdjust="spacingAndGlyphs" fill-opacity="0.88" stroke="#000" stroke-opacity="0.5" stroke-width="0.35">0-EMA: NaN</text>
<path d="M820 149.5H975" stroke="#000" stroke-opacity="0.13" stroke-width="1" stroke-dasharray="1 2" fill="none"/>
<text x="897" y="234.6" font-size="15.5" fill="#fff" textLength="83" lengthAdjust="spacingAndGlyphs" text-anchor="middle" stroke="#fff" stroke-width="0.25">ATR: 73.341</text>
</svg>
</body></html>
